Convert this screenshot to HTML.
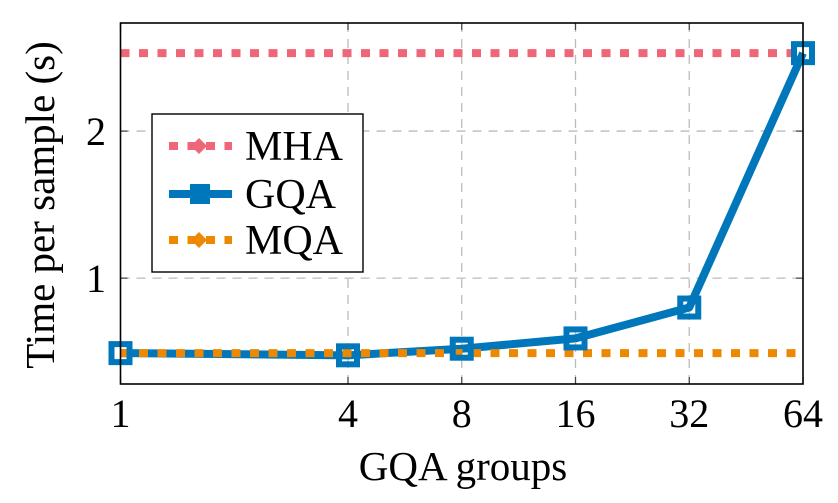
<!DOCTYPE html>
<html><head><meta charset="utf-8"><style>
html,body{margin:0;padding:0;background:#fff;}
svg{display:block;font-family:"Liberation Serif",serif;}
</style></head><body>
<svg id="chart" width="838" height="503" viewBox="0 0 838 503">
<g id="grid"></g>
<g id="ticks"></g>
<g id="series"></g>
<rect x="120.5" y="23" width="682.5" height="361" fill="none" stroke="#000" stroke-width="1.6"/>
<text x="0" y="0" transform="translate(54,205) rotate(-90)" text-anchor="middle" font-size="41">Time per sample (s)</text>
<text x="463" y="480" text-anchor="middle" font-size="41">GQA groups</text>
<g>
<rect x="152" y="114" width="211" height="158" fill="#fff" stroke="#000" stroke-width="1.4"/>
<g>
<line x1="169" y1="146" x2="232" y2="146" stroke="#ee6677" stroke-width="8" stroke-dasharray="9,9.5"/>
<path d="M191 146 L199 138 L207 146 L199 154 Z" fill="#ee6677"/>
<text x="245" y="160" font-size="42">MHA</text></g>
<g>
<line x1="169" y1="194" x2="232" y2="194" stroke="#0077bb" stroke-width="8"/>
<rect x="190" y="184" width="20" height="20" fill="#0077bb"/>
<text x="245" y="208" font-size="42">GQA</text></g>
<g>
<line x1="169" y1="240" x2="232" y2="240" stroke="#ee8800" stroke-width="8" stroke-dasharray="9,9.5"/>
<path d="M191 240 L199 232 L207 240 L199 248 Z" fill="#ee8800"/>
<text x="245" y="254" font-size="42">MQA</text></g>
</g>
</svg>
<script>
const groups = [1, 4, 8, 16, 32, 64];
const gqaTimes = [0.49, 0.475, 0.52, 0.59, 0.80, 2.53];
const mhaTime = 2.53;
const mqaTime = 0.49;
const yTicks = [1, 2];

const NS = "http://www.w3.org/2000/svg";
const X0 = 120.5, X1 = 803, Y0 = 384, Y1 = 23;
const ymin = 0.28, ymax = 2.735;
function xs(v){ return X0 + (Math.log2(v) - Math.log2(groups[0])) / (Math.log2(groups[groups.length-1]) - Math.log2(groups[0])) * (X1 - X0); }
function ys(v){ return Y0 - (v - ymin) / (ymax - ymin) * (Y0 - Y1); }
function mk(tag, attrs, parent){ const e = document.createElementNS(NS, tag); for (const k in attrs) e.setAttribute(k, attrs[k]); parent.appendChild(e); return e; }
const grid = document.getElementById('grid'), ticks = document.getElementById('ticks'), series = document.getElementById('series');

groups.forEach(g => {
  const x = xs(g);
  if (g !== groups[0] && g !== groups[groups.length-1]) {
    const gl = mk('line', {x1:x, y1:Y1, x2:x, y2:Y0, stroke:'#bbb', 'stroke-width':1.3, 'stroke-dasharray':'9,7'}, grid);
    
    
  }
  mk('line', {x1:x, y1:Y0, x2:x, y2:Y0-7, stroke:'#444', 'stroke-width':1.2}, ticks);
  mk('line', {x1:x, y1:Y1, x2:x, y2:Y1+7, stroke:'#444', 'stroke-width':1.2}, ticks);
  const t = mk('text', {x:x, y:427, 'text-anchor':'middle', 'font-size':40}, ticks);
  t.textContent = g;
  
  
});
yTicks.forEach(v => {
  const y = ys(v);
  const gl = mk('line', {x1:X0, y1:y, x2:X1, y2:y, stroke:'#bbb', 'stroke-width':1.3, 'stroke-dasharray':'9,7'}, grid);
  
  
  mk('line', {x1:X0, y1:y, x2:X0+7, y2:y, stroke:'#444', 'stroke-width':1.2}, ticks);
  mk('line', {x1:X1, y1:y, x2:X1-7, y2:y, stroke:'#444', 'stroke-width':1.2}, ticks);
  const t = mk('text', {x:106, y:y+14, 'text-anchor':'end', 'font-size':40}, ticks);
  t.textContent = v;
  
  
});

const mha = mk('line', {x1:X0, y1:ys(mhaTime), x2:X1, y2:ys(mhaTime), stroke:'#ee6677', 'stroke-width':8, 'stroke-dasharray':'9,9.5'}, series);



const pts = groups.map((g,i) => xs(g) + ',' + ys(gqaTimes[i])).join(' ');
const gl = mk('polyline', {points:pts, fill:'none', stroke:'#0077bb', 'stroke-width':8, 'stroke-linejoin':'round'}, series);



const mqa = mk('line', {x1:X0, y1:ys(mqaTime), x2:X1, y2:ys(mqaTime), stroke:'#ee8800', 'stroke-width':8, 'stroke-dasharray':'9,9.5'}, series);



groups.forEach((g,i) => {
  const x = xs(g), y = ys(gqaTimes[i]);
  const r = mk('rect', {x:x-9, y:y-9, width:18, height:18, fill:'none', stroke:'#0077bb', 'stroke-width':6}, series);
  
  
});
</script>
</body></html>
